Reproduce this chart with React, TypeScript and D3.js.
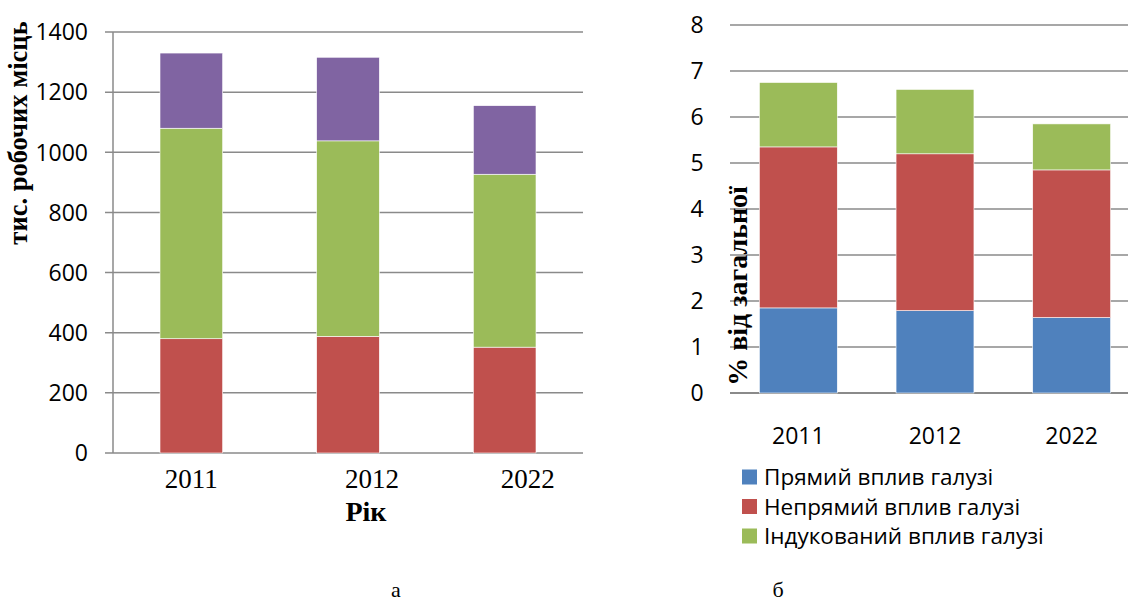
import React from "react";
import * as d3 from "d3";

// ---- Data: chart (а) thousands of jobs ----
const yearsA = ["2011", "2012", "2022"];
const directA = [380, 388, 352]; // red
const indirectA = [700, 650, 575]; // green
const inducedA = [250, 278, 228]; // purple
const ticksA = [0, 200, 400, 600, 800, 1000, 1200, 1400];

// ---- Data: chart (б) % of total ----
const yearsB = ["2011", "2012", "2022"];
const directB = [1.85, 1.79, 1.64]; // blue
const indirectB = [3.5, 3.41, 3.21]; // red
const inducedB = [1.4, 1.4, 1.0]; // green
const ticksB = [0, 1, 2, 3, 4, 5, 6, 7, 8];
const legendLabels = ["Прямий вплив галузі", "Непрямий вплив галузі", "Індукований вплив галузі"];

const SERIF = "'Liberation Serif', 'DejaVu Serif', serif";
const SANS = "'Open Sans', 'Noto Sans', sans-serif";
const GRID = "#8a8a8a";

const colorsA = ["#C0504D", "#9BBB59", "#8064A2"];
const colorsB = ["#4F81BD", "#C0504D", "#9BBB59"];

// label offsets of chart (а) x labels (text boxes not centred in source)
const labelShiftA = [0, 24, 23];

function ChartA() {
  const x = d3.scaleBand<string>().domain(yearsA).range([113, 583]).paddingInner(0.6).paddingOuter(0.3);
  const y = d3.scaleLinear().domain([0, 1400]).range([453, 32]);
  const rows = yearsA.map((yr, i) => ({ year: yr, a: directA[i], b: indirectA[i], c: inducedA[i] }));
  const series = d3.stack<any>().keys(["a", "b", "c"])(rows);
  return (
    <g>
      {ticksA.map((t) => (
        <g key={t}>
          <line x1={105} x2={583} y1={y(t)} y2={y(t)} stroke={GRID} strokeWidth={1.5} />
          <text x={88} y={y(t)} dy="0.36em" textAnchor="end" fontFamily={SANS} fontSize={23} fill="#000">
            {t}
          </text>
        </g>
      ))}
      <line x1={113} x2={113} y1={y(1400)} y2={y(0)} stroke={GRID} strokeWidth={1.5} />
      {series.map((s, si) =>
        s.map((d, i) => (
          <rect
            key={si + "-" + i}
            x={x(yearsA[i])!}
            width={x.bandwidth()}
            y={y(d[1])}
            height={y(d[0]) - y(d[1])}
            fill={colorsA[si]}
            stroke="#ffffff"
            strokeWidth={0.6}
          />
        ))
      )}
      {yearsA.map((yr, i) => (
        <text
          key={yr}
          x={x(yr)! + x.bandwidth() / 2 + labelShiftA[i]}
          y={488}
          textAnchor="middle"
          fontFamily={SERIF}
          fontSize={27}
          fill="#000"
        >
          {yr}
        </text>
      ))}
      <text x={366} y={521} textAnchor="middle" fontFamily={SERIF} fontWeight="bold" fontSize={28} fill="#000">
        Рік
      </text>
      <text
        transform={`translate(27,133) rotate(-90)`}
        textAnchor="middle"
        fontFamily={SERIF}
        fontWeight="bold"
        fontSize={26.5}
        fill="#000"
      >
        тис. робочих місць
      </text>
      <text x={396} y={597} textAnchor="middle" fontFamily={SERIF} fontSize={22} fill="#000">
        а
      </text>
    </g>
  );
}

function ChartB() {
  const x = d3.scaleBand<string>().domain(yearsB).range([730, 1140]).paddingInner(0.43).paddingOuter(0.215);
  const y = d3.scaleLinear().domain([0, 8]).range([393, 25]);
  const rows = yearsB.map((yr, i) => ({ year: yr, a: directB[i], b: indirectB[i], c: inducedB[i] }));
  const series = d3.stack<any>().keys(["a", "b", "c"])(rows);
  return (
    <g>
      {ticksB.map((t) => (
        <g key={t}>
          <line x1={730} x2={1128} y1={y(t)} y2={y(t)} stroke={GRID} strokeWidth={t === 0 ? 2 : 1.5} />
          <text x={697} y={y(t)} dy="0.36em" textAnchor="middle" fontFamily={SANS} fontSize={23} fill="#000">
            {t}
          </text>
        </g>
      ))}
      {series.map((s, si) =>
        s.map((d, i) => (
          <rect
            key={si + "-" + i}
            x={x(yearsB[i])!}
            width={x.bandwidth()}
            y={y(d[1])}
            height={y(d[0]) - y(d[1])}
            fill={colorsB[si]}
            stroke="#ffffff"
            strokeWidth={0.6}
          />
        ))
      )}
      {yearsB.map((yr) => (
        <text
          key={yr}
          x={x(yr)! + x.bandwidth() / 2}
          y={444}
          textAnchor="middle"
          fontFamily={SANS}
          fontSize={23}
          fill="#000"
        >
          {yr}
        </text>
      ))}
      {legendLabels.map((lab, i) => (
        <g key={lab} transform={`translate(742,${477 + i * 29.5})`}>
          <rect x={0} y={-7.5} width={15} height={15} fill={colorsB[i]} />
          <text x={22} y={0} dy="0.36em" fontFamily={SANS} fontSize={22.5} fill="#000">
            {lab}
          </text>
        </g>
      ))}
      <text
        transform={`translate(747,286) rotate(-90)`}
        textAnchor="middle"
        fontFamily={SERIF}
        fontWeight="bold"
        fontSize={28}
        fill="#000"
      >
        % від загальної
      </text>
      <text x={778} y={597} textAnchor="middle" fontFamily={SERIF} fontSize={22} fill="#000">
        б
      </text>
    </g>
  );
}

export default function App() {
  return (
    <svg
      width={1128}
      height={603}
      viewBox="0 0 1128 603"
      style={{ position: "absolute", left: 0, top: 0, background: "#fff" }}
    >
      <rect width={1128} height={603} fill="#fff" />
      <ChartA />
      <ChartB />
    </svg>
  );
}
